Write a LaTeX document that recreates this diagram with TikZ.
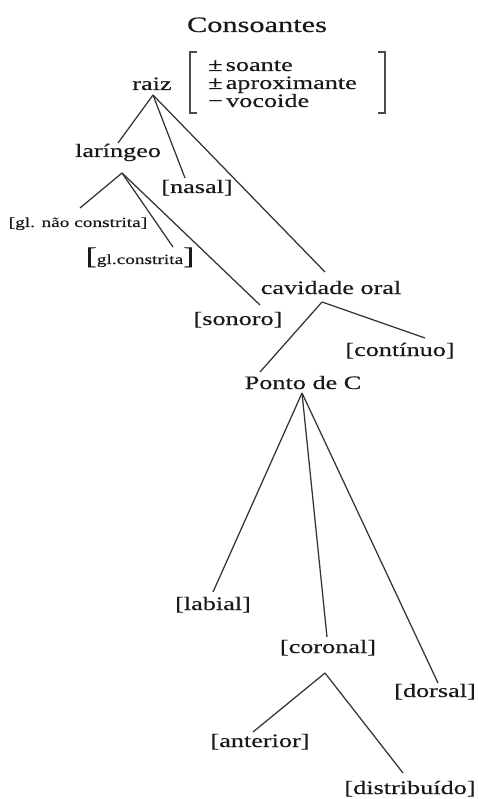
\documentclass[tikz,border=0pt]{standalone}
\usepackage{fontspec}
\setmainfont{Liberation Serif}[FakeStretch=1.38,FakeBold=0.4]
\usetikzlibrary{calc}
\begin{document}
\begin{tikzpicture}[x=1pt,y=-1pt,
  lbl/.style={anchor=base,inner sep=0pt,font=\fontsize{19}{20}\selectfont,text=black!90},
  small/.style={anchor=base,inner sep=0pt,font=\fontsize{14}{15}\selectfont,text=black!90},
  feat/.style={anchor=base west,inner sep=0pt,font=\fontsize{19}{20}\selectfont,text=black!90},
  edge/.style={draw=black!80,line width=1.25pt},
  brk/.style={draw=black!70,line width=1.7pt}]
\useasboundingbox (0,0) rectangle (477,799);
% nodes
\node[lbl,font=\fontsize{22}{24}\selectfont] (title) at (257,32) {Consoantes};
\node[lbl] (raiz) at (152,90) {raiz};
\node[feat] (f1) at (208,71) {±\,soante};
\node[feat] (f2) at (208,89) {±\,aproximante};
\node[feat] (f3) at (208,107) {−\,vocoide};
\node[lbl] (laringeo) at (118,157) {laríngeo};
\node[lbl] (nasal) at (197,193) {[nasal]};
\node[small] (gnc) at (78,227) {[gl. não constrita]};
\node[small] (gc) at (140,264) {{\fontsize{24}{24}\selectfont[}gl.constrita{\fontsize{24}{24}\selectfont]}};
\node[lbl] (sonoro) at (238,325) {[sonoro]};
\node[lbl] (cav) at (331,294) {cavidade oral};
\node[lbl] (continuo) at (400,356) {[contínuo]};
\node[lbl] (ponto) at (303,389) {Ponto de C};
\node[lbl] (labial) at (213,610) {[labial]};
\node[lbl] (coronal) at (328,653) {[coronal]};
\node[lbl] (dorsal) at (435,697) {[dorsal]};
\node[lbl] (anterior) at (260,747) {[anterior]};
\node[lbl] (distrib) at (410,794) {[distribuído]};
% brackets
\draw[brk] (197,52) -- (190,52) -- (190,113) -- (197,113);
\draw[brk] (378,52) -- (385,52) -- (385,113) -- (378,113);
% apex coordinates
\coordinate (raizB) at ($(raiz.base)+(1,5)$);
\coordinate (larB) at ($(laringeo.base)+(4,16)$);
\coordinate (cavB) at ($(cav.base)+(-9,8)$);
\coordinate (pontoB) at ($(ponto.base)+(-1,4)$);
\coordinate (corB) at ($(coronal.base)+(-3,20)$);
% connectors
\draw[edge] (raizB) -- ($(laringeo.base)+(0,-14)$);
\draw[edge] (raizB) -- ($(nasal.base)+(-12,-15)$);
\draw[edge] (raizB) -- ($(cav.base)+(-6,-22)$);
\draw[edge] (larB) -- ($(gnc.base)+(2,-19)$);
\draw[edge] (larB) -- ($(gc.base)+(33,-17)$);
\draw[edge] (larB) -- ($(sonoro.base)+(22,-20)$);
\draw[edge] (cavB) -- ($(ponto.base)+(-43,-17)$);
\draw[edge] (cavB) -- ($(continuo.base)+(25,-18)$);
\draw[edge] (pontoB) -- ($(labial.base)+(0,-18)$);
\draw[edge] (pontoB) -- ($(coronal.base)+(-1,-16)$);
\draw[edge] (pontoB) -- ($(dorsal.base)+(3,-14)$);
\draw[edge] (corB) -- ($(anterior.base)+(-7,-15)$);
\draw[edge] (corB) -- ($(distrib.base)+(-7,-21)$);
\end{tikzpicture}
\end{document}
